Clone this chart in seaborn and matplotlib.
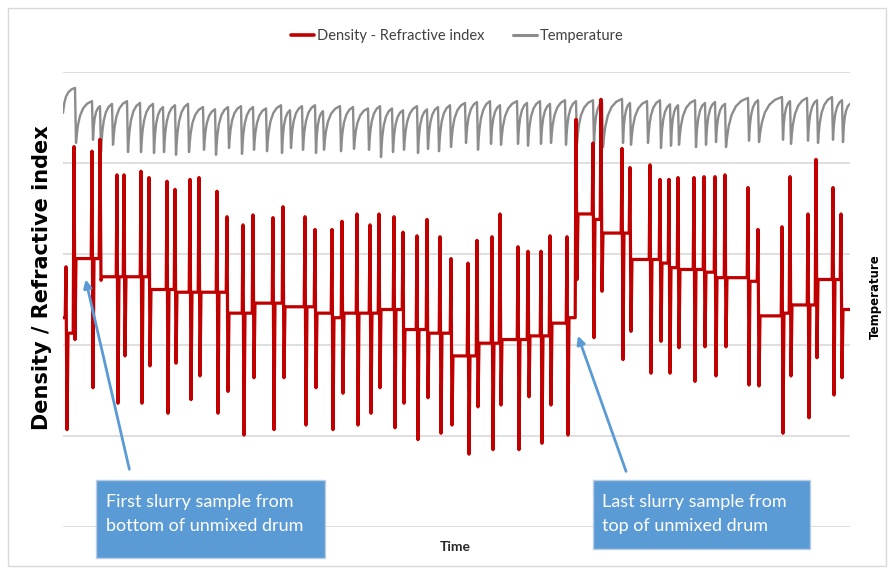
import numpy as np
import pandas as pd
import matplotlib
matplotlib.use("Agg")
import matplotlib.pyplot as plt
import seaborn as sns
from matplotlib.lines import Line2D
from matplotlib.patches import Rectangle

# ---- density / refractive index: one entry per sample spike ----
# time of spike, peak value, dip value, level the signal settles at afterwards
event_t = [3, 11, 29, 37, 54, 61, 78, 86, 104, 112, 127, 136, 154, 164, 180, 190,
           210, 220, 242, 252, 269, 279, 294, 307, 316, 331, 340, 354, 364, 377,
           388, 405, 414, 429, 437, 455, 465, 478, 487, 504, 513, 530, 538, 559,
           567, 587, 597, 606, 615, 631, 641, 652, 662, 685, 695, 719, 727, 745,
           753, 770, 778]
event_hi = [28.6, 41.8, 41.3, 42.6, 38.7, 38.7, 39.1, 38.4, 38.0, 37.1, 38.2, 38.4,
            36.9, 34.1, 33.2, 34.3, 34.0, 35.2, 34.1, 32.7, 32.7, 33.6, 34.4, 33.2,
            34.4, 34.1, 32.4, 32.0, 33.8, 31.9, 29.5, 29.0, 31.5, 31.9, 34.4, 30.8,
            30.3, 30.3, 32.0, 31.9, 44.8, 42.2, 47.0, 41.6, 39.5, 39.8, 38.2, 38.2,
            38.4, 38.4, 38.5, 38.5, 38.7, 37.3, 32.7, 33.0, 38.5, 34.4, 40.4, 37.3,
            34.4]
event_lo = [10.7, 20.6, 15.3, 27.1, 13.6, 18.8, 13.6, 17.7, 12.5, 18.0, 14.0, 16.6,
            12.5, 14.9, 10.1, 16.4, 10.7, 16.4, 11.2, 15.3, 10.7, 14.7, 11.2, 12.5,
            15.3, 10.9, 13.6, 9.6, 14.2, 10.3, 11.2, 8.0, 13.2, 8.5, 13.4, 8.5,
            14.3, 9.2, 13.4, 10.1, 27.2, 20.8, 25.9, 18.4, 21.5, 16.9, 20.4, 16.9,
            19.7, 16.0, 19.8, 16.6, 19.8, 15.6, 15.5, 10.3, 16.6, 12.0, 18.6, 14.5,
            16.4]
event_base = [21.3, 29.5, 29.5, 27.5, 27.5, 27.5, 27.5, 26.1, 26.1, 25.8, 25.8, 25.8,
              25.8, 23.5, 23.5, 24.6, 24.6, 24.2, 24.2, 23.5, 23.0, 23.5, 23.5, 23.5,
              23.9, 23.9, 21.7, 21.7, 21.3, 21.3, 18.8, 18.8, 20.2, 20.2, 20.6, 20.6,
              21.0, 21.0, 22.4, 23.0, 34.4, 33.8, 32.3, 32.3, 29.4, 29.4, 29.0, 28.5,
              28.3, 28.3, 28.0, 27.4, 27.4, 27.0, 23.2, 23.5, 24.4, 24.4, 27.2, 27.2,
              23.9]
density_start = 23.0
t_end = 787

# ---- temperature: sharp drop at each sample, then recovery ----
temp_drop_t = [12, 29, 37, 49, 64, 77, 90, 100, 112, 125, 140, 152, 165, 178, 190,
               203, 218, 227, 239, 252, 260, 277, 290, 305, 317, 329, 340, 354, 364,
               375, 387, 402, 414, 427, 437, 454, 464, 477, 487, 502, 513, 530, 539,
               559, 567, 584, 597, 607, 615, 632, 642, 652, 662, 685, 695, 719, 727,
               744, 754, 769, 779]
temp_low = [84.4, 85.1, 82.4, 84.0, 82.4, 82.4, 82.2, 82.4, 81.8, 82.4,
            82.9, 81.8, 83.3, 82.0, 82.9, 82.6, 82.2, 83.3, 82.9, 82.2,
            82.9, 82.6, 83.1, 82.9, 81.3, 82.4, 82.9, 82.2, 83.1, 82.6,
            83.5, 84.4, 82.9, 84.2, 84.0, 84.2, 83.8, 84.2, 84.4, 84.0, 84.4,
            84.2, 83.5, 84.4, 84.0, 84.4, 83.3, 83.8, 84.0, 83.5, 84.0,
            84.6, 83.5, 84.9, 84.6, 85.1, 84.2, 84.9, 84.4, 85.1, 84.6]
temp_high = [96.5, 93.6, 92.5, 93.0, 93.6, 93.2, 93.0, 92.3, 92.7, 93.0,
             92.3, 91.8, 92.3, 92.5, 92.3, 92.0, 92.7, 91.6, 92.5, 92.7,
             91.4, 92.5, 92.3, 92.0, 92.5, 92.0, 91.6, 92.5, 91.8, 92.3,
             92.7, 93.2, 93.4, 93.6, 92.7, 93.6, 93.2, 93.6, 93.0, 93.8, 93.6,
             93.8, 93.4, 94.1, 93.2, 93.6, 93.8, 92.9, 92.7, 93.8, 93.2,
             93.4, 93.0, 94.3, 93.8, 94.5, 93.6, 94.3, 93.8, 94.5, 93.8]
temp_start = 91.0
temp_end = 93.0
recover_pos = [0.0, 0.05, 0.12, 0.25, 0.45, 0.7, 1.0]
recover_frac = [0.0, 0.2, 0.42, 0.65, 0.83, 0.94, 1.0]

RED = "#c00000"
GREY = "#8c8c8c"
BLUE = "#5b9bd5"

# build the density polyline
dens_t, dens_v = [0], [density_start]
prev = density_start
for t, hi, lo, b in zip(event_t, event_hi, event_lo, event_base):
    dens_t += [t - 0.8, t, t + 1.0, t + 2.0]
    dens_v += [prev, hi, lo, b]
    prev = b
dens_t.append(t_end)
dens_v.append(prev)
density = pd.DataFrame({"time": dens_t, "value": dens_v})

# build the temperature polyline
starts = [0] + [t + 1 for t in temp_drop_t]
ends = temp_drop_t + [t_end]
lows = [temp_start] + temp_low
highs = temp_high + [temp_end]
temp_t, temp_v = [], []
for s, e, lo, hi in zip(starts, ends, lows, highs):
    for p, f in zip(recover_pos, recover_frac):
        temp_t.append(s + p * (e - s))
        temp_v.append(lo + f * (hi - lo))
temperature = pd.DataFrame({"time": temp_t, "value": temp_v})

sns.set_theme(style="white")
plt.rcParams["font.family"] = ["DejaVu Sans"]

fig = plt.figure(figsize=(8.9, 5.72), dpi=100)
ax = fig.add_axes([63 / 890, 1 - 527 / 572, 787 / 890, 455 / 572])
ax2 = ax.twinx()

sns.lineplot(data=density, x="time", y="value", ax=ax, color=RED, lw=2.3,
             estimator=None, sort=False, legend=False, zorder=3)
sns.lineplot(data=temperature, x="time", y="value", ax=ax2, color=GREY, lw=1.7,
             estimator=None, sort=False, legend=False)
ax.set_zorder(ax2.get_zorder() + 1)
ax.patch.set_visible(False)

ax.set_xlim(0, t_end)
ax.set_ylim(0, 50)
ax2.set_ylim(0, 100)
ax.set_yticks(np.arange(0, 51, 10))
ax.yaxis.grid(True, color="#d9d9d9", lw=1.2)
ax.xaxis.grid(False)
for a in (ax, ax2):
    a.set_xticks([])
    a.tick_params(left=False, right=False, labelleft=False, labelright=False)
    a.set_xlabel("")
    a.set_ylabel("")
    for sp in a.spines.values():
        sp.set_visible(False)
ax2.set_yticks([])

# axis titles
fig.text(42 / 890, 1 - 278 / 572, "Density / Refractive index", rotation=90,
         ha="center", va="center", fontsize=15, fontweight="bold", color="black")
fig.text(875 / 890, 1 - 297 / 572, "Temperature", rotation=90, ha="center",
         va="center", fontsize=8.5, fontweight="bold", color="black")
fig.text(455 / 890, 1 - 547 / 572, "Time", ha="center", va="center",
         fontsize=10, fontweight="bold", family="Lato")

# legend
handles = [Line2D([0], [0], color=RED, lw=2.6), Line2D([0], [0], color=GREY, lw=2.2)]
fig.legend(handles, ["Density - Refractive index", "Temperature"], loc="center",
           bbox_to_anchor=(457 / 890, 1 - 36 / 572), ncol=2, frameon=False,
           prop={"family": "Lato", "size": 10.5}, labelcolor="#404040",
           handlelength=1.6, handletextpad=0.2, columnspacing=2.0)

# call-out boxes
boxes = [
    ((96, 480, 229, 78), (106, 514), "First slurry sample from\nbottom of unmixed drum"),
    ((593, 480, 217, 69), (602, 514), "Last slurry sample from\ntop of unmixed drum"),
]
for (bx, by, bw, bh), (tx, ty), txt in boxes:
    fig.patches.append(Rectangle((bx / 890, 1 - (by + bh) / 572), bw / 890, bh / 572,
                                 transform=fig.transFigure, facecolor=BLUE,
                                 edgecolor="#b8cce4", lw=1, zorder=5))
    fig.text(tx / 890, 1 - ty / 572, txt, ha="left", va="center", color="white",
             fontsize=13, family="Lato", linespacing=1.65, zorder=6)

# arrows from the boxes to the samples
ax.annotate("", xy=(22, 27.5), xycoords="data", xytext=(130, 572 - 472),
            textcoords="figure pixels",
            arrowprops=dict(arrowstyle="-|>", color=BLUE, lw=2, mutation_scale=12),
            zorder=6)
ax.annotate("", xy=(514, 21.3), xycoords="data", xytext=(627, 572 - 474),
            textcoords="figure pixels",
            arrowprops=dict(arrowstyle="-|>", color=BLUE, lw=2, mutation_scale=12),
            zorder=6)

# light outer frame of the chart area
fig.patches.append(Rectangle((8 / 890, 6 / 572), 878 / 890, 558 / 572,
                             transform=fig.transFigure, fill=False,
                             edgecolor="#d9d9d9", lw=1))

fig.savefig("out.png", dpi=100)
